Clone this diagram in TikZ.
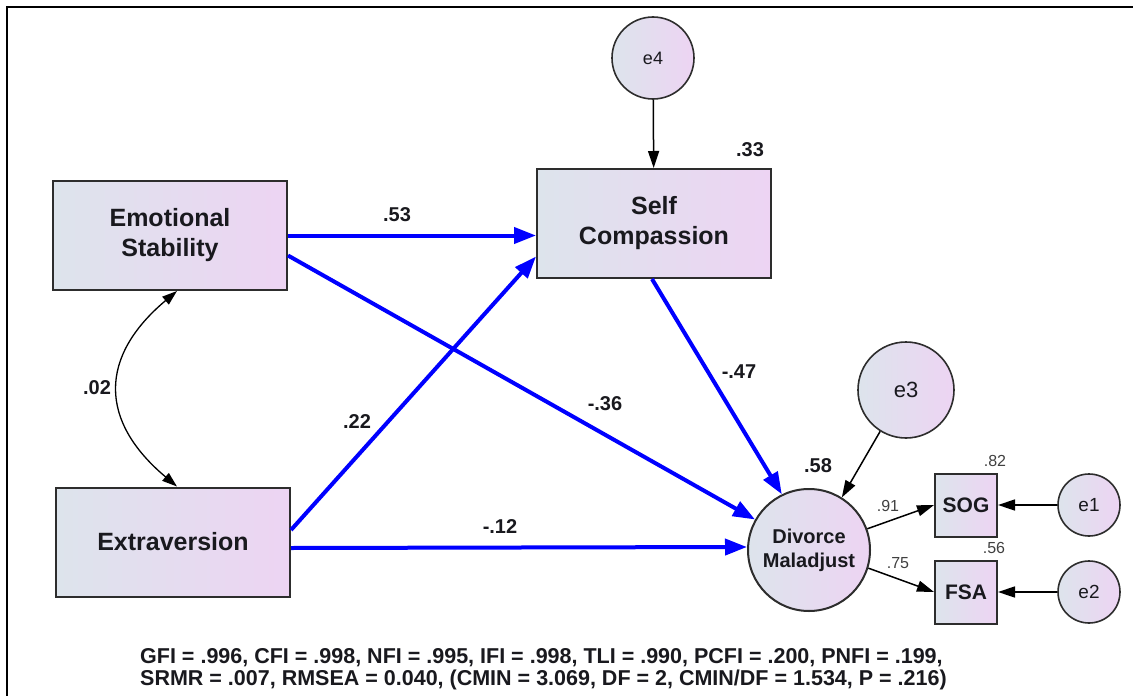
\documentclass[tikz,border=0pt]{standalone}
\usepackage{fontspec}
\setmainfont{Liberation Sans}
\usetikzlibrary{arrows.meta}
\definecolor{gl}{RGB}{221,228,236}
\definecolor{gr}{RGB}{237,212,243}
\definecolor{bord}{RGB}{45,45,45}
\definecolor{pathblue}{RGB}{0,0,255}
\definecolor{txt}{RGB}{25,25,30}
\begin{document}
\begin{tikzpicture}[x=1pt,y=-1pt,
  box/.style={draw=bord, line width=2pt, left color=gl, right color=gr,
    minimum width=234pt, minimum height=109pt, inner sep=0pt, align=center,
    font=\fontsize{25}{30}\selectfont\bfseries, text=txt},
  smallbox/.style={draw=bord, line width=2pt, left color=gl, right color=gr,
    minimum width=62pt, minimum height=63pt, inner sep=0pt,
    font=\fontsize{21}{24}\selectfont\bfseries, text=txt},
  err/.style={circle, draw=bord, line width=1.6pt, left color=gl, right color=gr,
    inner sep=0pt, text=txt},
  bluepath/.style={draw=pathblue, line width=4pt, -{Triangle[length=22pt,width=16pt]}},
  blackpath/.style={draw=black, line width=1.5pt, -{Triangle[length=17pt,width=11pt]}},
  coef/.style={font=\fontsize{20}{22}\selectfont\bfseries, text=txt},
  smcoef/.style={font=\fontsize{16}{18}\selectfont, text=black!75},
  fitline/.style={anchor=base west, inner sep=0pt, font=\bfseries\fontsize{21.5}{23}\selectfont, text=txt}
]
\useasboundingbox (0,0) rectangle (1133,696);
\draw[line width=2pt] (6.5,710) -- (6.5,6.5) -- (1140,6.5);

% nodes
\node[box] (es) at (170,235.5) {Emotional\\Stability};
\node[box] (ex) at (173,542) {Extraversion};
\node[box] (sc) at (654,223.5) {Self\\Compassion};
\node[err, minimum size=82pt, font=\fontsize{18}{20}\selectfont] (e4) at (653,58) {e4};
\node[err, minimum size=96pt, font=\fontsize{22}{24}\selectfont] (e3) at (906,390) {e3};
\node[err, line width=2pt, minimum size=122pt, align=center, font=\fontsize{20}{24}\selectfont\bfseries] (dm) at (809,550) {Divorce\\Maladjust};
\node[smallbox] (sog) at (966,505) {SOG};
\node[smallbox] (fsa) at (966,592) {FSA};
\node[err, minimum size=62pt, font=\fontsize{19}{21}\selectfont] (e1) at (1089,505) {e1};
\node[err, minimum size=62pt, font=\fontsize{19}{21}\selectfont] (e2) at (1089,592) {e2};

% structural paths
\draw[bluepath] (es.east) -- (sc.west |- es.east);
\draw[bluepath] ([yshift=-20pt]es.east) -- (dm);
\draw[bluepath] ([yshift=12pt]ex.east) -- ([yshift=-33pt]sc.west);
\draw[bluepath] ([yshift=-6pt]ex.east) -- ([yshift=3pt]dm.west);
\draw[bluepath] ([xshift=-2pt]sc.south) -- (dm.116);

% black paths
\draw[blackpath] (e4) -- (sc);
\draw[blackpath] (e3.238) -- (dm.58);
\draw[blackpath] (dm.20) -- (sog.west);
\draw[blackpath] (dm.-17) -- (fsa.west);
\draw[blackpath] (e1) -- (sog);
\draw[blackpath] (e2) -- (fsa);

% covariance
\draw[line width=1.3pt, {Triangle[length=15pt,width=10pt]}-{Triangle[length=15pt,width=10pt]}]
  ([xshift=7pt]es.south) to[out=-140,in=140,looseness=1.34] ([xshift=4pt]ex.north);

% labels
\node[coef] (l53) at (397,215) {.53};
\node[coef] (l22) at (357,422) {.22};
\node[coef] (l36) at (605,404) {-.36};
\node[coef] (l47) at (739,372) {-.47};
\node[coef] (l12) at (500,527) {-.12};
\node[coef] (l02) at (97,388) {.02};
\node[coef] (l33) at (750,150) {.33};
\node[coef] (l58) at (818,466) {.58};
\node[smcoef] (l82) at (995,461) {.82};
\node[smcoef] (l56) at (994,548) {.56};
\node[smcoef] (l91) at (888,506) {.91};
\node[smcoef] (l75) at (898,563) {.75};

\node[fitline] (fit1) at (140,663) {GFI = .996, CFI = .998, NFI = .995, IFI = .998, TLI = .990, PCFI = .200, PNFI = .199,};
\node[fitline] (fit2) at (140,685) {SRMR = .007, RMSEA = 0.040, (CMIN = 3.069, DF = 2, CMIN/DF = 1.534, P = .216)};
\end{tikzpicture}
\end{document}
